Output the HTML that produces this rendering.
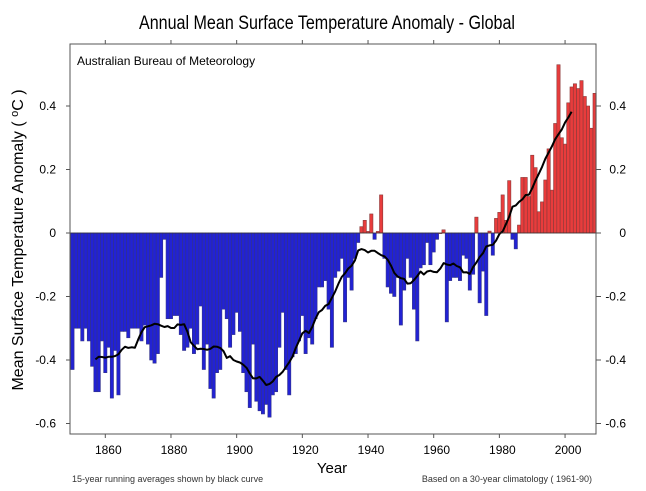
<!DOCTYPE html>
<html><head><meta charset="utf-8"><style>
html,body{margin:0;padding:0;background:#fff;}
svg{display:block;font-family:"Liberation Sans",sans-serif;}
</style></head><body>
<svg id="chart" width="646" height="491" viewBox="0 0 646 491" xmlns="http://www.w3.org/2000/svg">
<rect x="0" y="0" width="646" height="491" fill="#fff"/>
<text x="327" y="29" text-anchor="middle" font-size="19" textLength="376" lengthAdjust="spacingAndGlyphs" fill="#000">Annual Mean Surface Temperature Anomaly - Global</text>
<g id="bars"></g>
<g id="axes"></g>
<rect x="70" y="44" width="526" height="390" fill="none" stroke="#555" stroke-width="1"/>
<text x="77" y="65" font-size="12" fill="#000">Australian Bureau of Meteorology</text>
<text x="332" y="473" text-anchor="middle" font-size="15" fill="#000">Year</text>
<text transform="translate(23,240) rotate(-90)" text-anchor="middle" font-size="16" fill="#000">Mean Surface Temperature Anomaly ( <tspan font-size="11" dy="-5">o</tspan><tspan dy="5">C )</tspan></text>
<text x="72" y="482" font-size="9" fill="#333">15-year running averages shown by black curve</text>
<text x="592" y="482" text-anchor="end" font-size="9" fill="#333">Based on a 30-year climatology ( 1961-90)</text>
</svg>
<script>
const firstYear = 1850;
const anomalies = [
-0.43,-0.30,-0.30,-0.34,-0.30,-0.34,-0.42,-0.50,-0.50,-0.34,-0.44,-0.36,-0.52,-0.37,-0.51,-0.31,-0.31,-0.33,-0.30,-0.30,
-0.30,-0.34,-0.29,-0.35,-0.40,-0.41,-0.38,-0.14,-0.02,-0.27,-0.27,-0.26,-0.26,-0.32,-0.37,-0.36,
-0.30,-0.38,-0.35,-0.23,-0.43,-0.35,-0.49,-0.52,-0.44,-0.43,-0.24,-0.27,-0.36,-0.32,-0.25,-0.31,-0.44,-0.50,-0.55,-0.35,
-0.53,-0.56,-0.57,-0.54,-0.58,-0.51,-0.50,-0.36,-0.25,-0.43,-0.51,-0.39,-0.38,-0.34,-0.26,-0.38,-0.33,-0.35,-0.27,-0.17,
-0.17,-0.15,-0.24,-0.36,-0.14,-0.12,-0.08,-0.28,-0.14,-0.18,-0.08,-0.03,0.02,0.04,0.005,0.06,-0.02,0.005,0.12,-0.08,
-0.17,-0.19,-0.20,-0.14,-0.29,-0.18,-0.08,-0.14,-0.24,-0.34,-0.11,-0.10,-0.03,-0.10,-0.06,-0.02,0.00,0.01,-0.28,-0.15,-0.14,
-0.14,-0.15,-0.07,-0.08,-0.18,-0.13,0.05,-0.22,-0.12,-0.26,0.006,-0.07,0.046,0.065,0.12,0.04,0.165,-0.02,-0.05,0.025,0.175,
0.175,0.115,0.245,0.206,0.067,0.098,0.167,0.265,0.135,0.345,0.53,0.30,0.28,0.41,0.46,0.47,0.455,0.48,0.43,0.40,0.33,0.44
];
const xTicks = [1860,1880,1900,1920,1940,1960,1980,2000];
const yTicks = [0.4,0.2,0,-0.2,-0.4,-0.6];
const yTickLabels = ["0.4","0.2","0","-0.2","-0.4","-0.6"];
const runWindow = 15;

const NS = "http://www.w3.org/2000/svg";
function xScale(year){ return 105.3 + (year - 1860) * 3.284; }
function yScale(v){ return 233 - v * 317.5; }
const bw = 3.284;
const barsG = document.getElementById('bars');
const axesG = document.getElementById('axes');
function mk(tag, attrs){ const e = document.createElementNS(NS, tag); for (const k in attrs) e.setAttribute(k, attrs[k]); return e; }

anomalies.forEach((v, i) => {
  const yr = firstYear + i;
  const y0 = yScale(0), y1 = yScale(v);
  const r = mk('rect', {x: xScale(yr) - bw/2, y: Math.min(y0, y1), width: bw, height: Math.max(Math.abs(y1 - y0), 0.6),
    fill: v >= 0 ? '#e83c3c' : '#2222d4', stroke: v >= 0 ? '#8a3a3a' : '#333388', 'stroke-width': 0.6});
  
  
  barsG.appendChild(r);
});

const half = Math.floor(runWindow / 2);
let pts = [];
for (let i = half; i < anomalies.length - half; i++) {
  let s = 0; for (let j = i - half; j <= i + half; j++) s += anomalies[j];
  pts.push(xScale(firstYear + i).toFixed(1) + ',' + yScale(s / runWindow).toFixed(1));
}
const line = mk('polyline', {points: pts.join(' '), fill: 'none', stroke: '#000', 'stroke-width': 2, 'stroke-linejoin': 'round'});


barsG.appendChild(line);

xTicks.forEach(yr => {
  const x = xScale(yr);
  const t = mk('line', {x1: x, x2: x, y1: 434, y2: 438, stroke: '#555'});
  
  
  axesG.appendChild(t);
  const tt = mk('line', {x1: x, x2: x, y1: 44, y2: 40, stroke: '#555'});
  
  
  axesG.appendChild(tt);
  const lb = mk('text', {x: x + 3, y: 454, 'text-anchor': 'middle', 'font-size': 12, fill: '#000'});
  lb.textContent = yr;
  
  
  axesG.appendChild(lb);
});
yTicks.forEach((v, i) => {
  const y = yScale(v);
  const tl = mk('line', {x1: 66, x2: 70, y1: y, y2: y, stroke: '#555'});
  
  
  axesG.appendChild(tl);
  const tr = mk('line', {x1: 596, x2: 601, y1: y, y2: y, stroke: '#555'});
  
  
  axesG.appendChild(tr);
  const ll = mk('text', {x: 56, y: y + 4, 'text-anchor': 'end', 'font-size': 12, fill: '#000'});
  ll.textContent = yTickLabels[i];
  
  
  axesG.appendChild(ll);
  const rl = mk('text', {x: 626, y: y + 4, 'text-anchor': 'end', 'font-size': 12, fill: '#000'});
  rl.textContent = yTickLabels[i];
  
  
  axesG.appendChild(rl);
});
const zl = mk('line', {x1: 70, x2: 596, y1: yScale(0), y2: yScale(0), stroke: '#333', 'stroke-width': 0.8});


axesG.appendChild(zl);
</script>
</body></html>
